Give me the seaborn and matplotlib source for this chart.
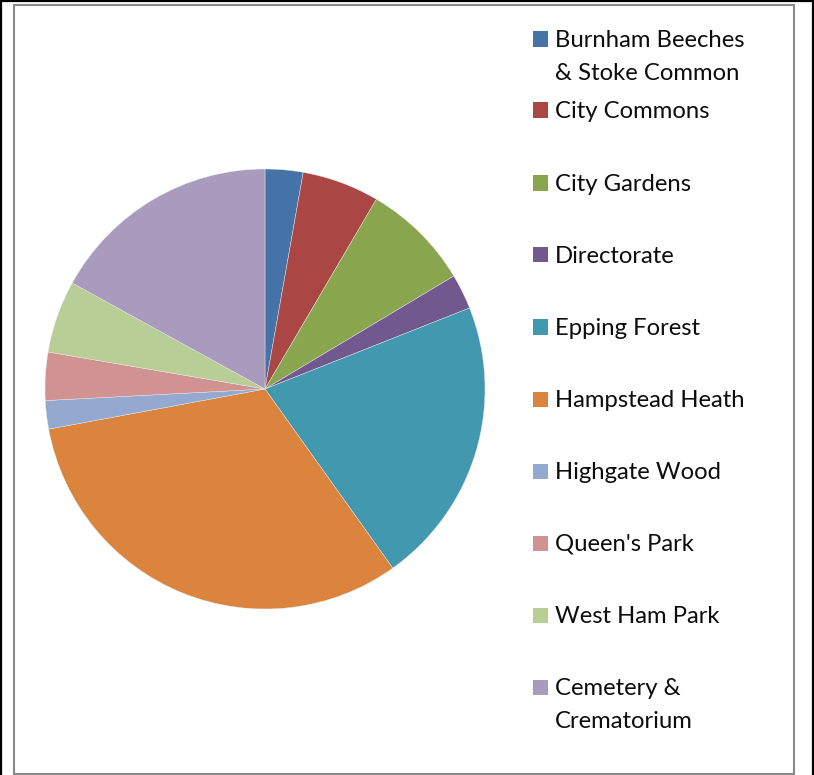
import matplotlib
matplotlib.use("Agg")
import matplotlib.pyplot as plt
from matplotlib.patches import Rectangle
from matplotlib.lines import Line2D
import seaborn as sns

# Share of spend by division (%)
divisions = [
    "Burnham Beeches\n& Stoke Common",
    "City Commons",
    "City Gardens",
    "Directorate",
    "Epping Forest",
    "Hampstead Heath",
    "Highgate Wood",
    "Queen's Park",
    "West Ham Park",
    "Cemetery &\nCrematorium",
]
shares = [2.78, 5.67, 7.97, 2.58, 21.14, 31.94, 2.08, 3.53, 5.31, 17.00]
colors = [
    "#4572A7", "#AA4643", "#89A54E", "#71588F", "#4198AF",
    "#DB843D", "#93A9CF", "#D19392", "#B9CD96", "#A99BBD",
]

sns.set_theme(style="white")
plt.rcParams["font.family"] = ["Lato", "DejaVu Sans"]

W, H = 814, 775
fig = plt.figure(figsize=(W / 100, H / 100), dpi=100)
fig.patch.set_facecolor("white")


def fx(px):
    return px / W


def fy(py):
    return 1 - py / H


# pie area
cx, cy, r = 265, 389, 220
ax = fig.add_axes([fx(cx - r), fy(cy + r), 2 * r / W, 2 * r / H])
ax.pie(
    shares,
    colors=colors,
    startangle=90,
    counterclock=False,
    radius=1,
    wedgeprops=dict(edgecolor="#e8e8e8", linewidth=0.3),
)
ax.set_xlim(-1, 1)
ax.set_ylim(-1, 1)
ax.set_aspect("auto")
ax.axis("off")

# legend, drawn entry by entry so multi-line labels hang from the first line
baselines = [47, 118, 191, 263, 335, 407, 479, 551, 623, 695]
line_gap = 33
for label, col, base in zip(divisions, colors, baselines):
    fig.add_artist(Rectangle((fx(533), fy(base - 0.5)), 15 / W, 15 / H,
                             transform=fig.transFigure, facecolor=col,
                             edgecolor="none"))
    for i, line in enumerate(label.split("\n")):
        fig.text(fx(555), fy(base + i * line_gap), line, fontsize=17.2,
                 color="#0d0d0d", ha="left", va="baseline")

# chart frame
fig.add_artist(Rectangle((fx(14), fy(774)), (793.5 - 14) / W, (774 - 4.5) / H,
                         transform=fig.transFigure, facecolor="none",
                         edgecolor="#8a8a8a", linewidth=1.5))
# outer border
for xs, ys in [([0.5, 0.5], [0, H]), ([0, W], [0.7, 0.7]), ([813.3, 813.3], [0, H])]:
    fig.add_artist(Line2D([fx(x) for x in xs], [fy(y) for y in ys],
                          transform=fig.transFigure, color="black", linewidth=1.6))

fig.savefig("out.png", dpi=100)
